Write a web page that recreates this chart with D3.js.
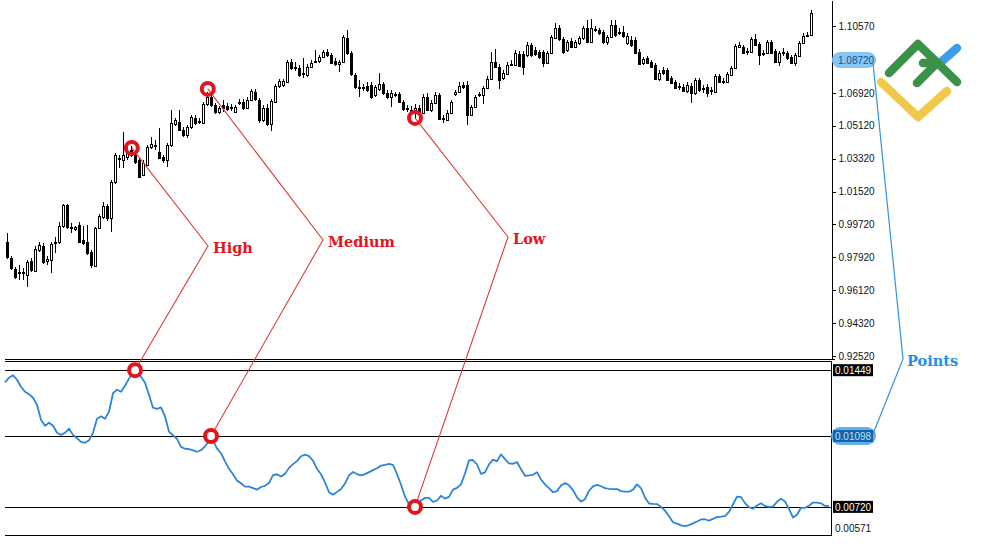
<!DOCTYPE html>
<html><head><meta charset="utf-8">
<script src="https://cdn.jsdelivr.net/npm/d3@7"></script>
<style>html,body{margin:0;padding:0;background:#fff;} svg{display:block;}</style>
</head><body>
<svg id="chart" width="1000" height="545"></svg>
<script>
const openP = [
0.9876,0.9788,0.9728,0.9712,0.9706,0.9695,0.9772,0.9717,0.9832,0.9854,
0.9772,0.9778,0.9871,0.9876,0.9964,1.0079,0.9958,0.9947,0.9969,0.9887,
0.9876,0.9821,0.9745,0.9953,1.0013,1.0073,1.0007,1.0204,1.0336,1.0325,
1.0341,1.0380,1.0352,1.0325,1.0243,1.0298,1.0396,1.0407,1.0369,1.0341,
1.0325,1.0407,1.0522,1.0533,1.0489,1.0462,1.0505,1.0555,1.0538,1.0527,
1.0631,1.0670,1.0626,1.0588,1.0626,1.0620,1.0615,1.0588,1.0637,1.0642,
1.0610,1.0653,1.0697,1.0653,1.0544,1.0610,1.0522,1.0642,1.0730,1.0736,
1.0752,1.0861,1.0834,1.0829,1.0801,1.0790,1.0834,1.0861,1.0867,1.0889,
1.0916,1.0900,1.0867,1.0850,1.0861,1.0993,1.0911,1.0790,1.0725,1.0719,
1.0730,1.0736,1.0681,1.0714,1.0741,1.0692,1.0670,1.0686,1.0686,1.0642,
1.0610,1.0599,1.0588,1.0610,1.0582,1.0670,1.0599,1.0637,1.0681,1.0555,
1.0544,1.0582,1.0686,1.0697,1.0736,1.0736,1.0571,1.0615,1.0681,1.0681,
1.0719,1.0768,1.0861,1.0834,1.0774,1.0796,1.0845,1.0845,1.0905,1.0905,
1.0900,1.0954,1.0927,1.0916,1.0916,1.0856,1.0911,1.0993,1.1047,1.0987,
1.0927,1.0976,1.0943,1.0965,1.0993,1.1047,1.0971,1.1042,1.1036,1.1025,
1.0971,1.0998,1.1064,1.1025,1.1025,1.0965,1.0982,1.0982,1.0916,1.0856,
1.0883,1.0861,1.0845,1.0768,1.0817,1.0817,1.0774,1.0752,1.0730,1.0725,
1.0703,1.0730,1.0692,1.0763,1.0719,1.0725,1.0703,1.0697,1.0785,1.0757,
1.0752,1.0790,1.0829,1.0943,1.0943,1.0922,1.0916,1.0987,1.0960,1.0905,
1.0911,1.0971,1.0922,1.0861,1.0916,1.0911,1.0889,1.0856,1.0894,1.0965,
1.1004,1.1009];
const highP = [
0.9925,0.9799,0.9739,0.9750,0.9734,0.9778,0.9788,0.9854,0.9876,0.9871,
0.9799,0.9876,0.9903,0.9985,1.0084,1.0084,0.9980,0.9964,0.9985,0.9964,
0.9969,0.9832,0.9958,1.0029,1.0095,1.0084,1.0215,1.0363,1.0352,1.0478,
1.0391,1.0401,1.0369,1.0336,1.0325,1.0407,1.0451,1.0434,1.0500,1.0352,
1.0418,1.0599,1.0555,1.0599,1.0505,1.0516,1.0571,1.0571,1.0555,1.0642,
1.0697,1.0686,1.0637,1.0620,1.0653,1.0637,1.0631,1.0626,1.0659,1.0659,
1.0670,1.0714,1.0714,1.0664,1.0626,1.0631,1.0659,1.0741,1.0768,1.0768,
1.0872,1.0878,1.0861,1.0845,1.0883,1.0850,1.0872,1.0927,1.0900,1.0927,
1.0932,1.0911,1.0883,1.0872,1.1009,1.1036,1.0922,1.0801,1.0763,1.0741,
1.0752,1.0752,1.0736,1.0801,1.0752,1.0708,1.0708,1.0697,1.0697,1.0653,
1.0626,1.0620,1.0631,1.0626,1.0686,1.0692,1.0653,1.0697,1.0692,1.0571,
1.0599,1.0653,1.0708,1.0752,1.0752,1.0757,1.0626,1.0681,1.0697,1.0730,
1.0785,1.0916,1.0932,1.0850,1.0817,1.0861,1.0872,1.0927,1.0922,1.0922,
1.0971,1.0965,1.0943,1.0927,1.0927,1.0922,1.1009,1.1075,1.1064,1.0998,
1.0982,1.0993,1.0982,1.1004,1.1058,1.1091,1.1097,1.1058,1.1047,1.1036,
1.1009,1.1091,1.1091,1.1047,1.1058,1.1020,1.1004,1.0998,1.0932,1.0889,
1.0894,1.0872,1.0856,1.0817,1.0834,1.0829,1.0785,1.0763,1.0746,1.0741,
1.0752,1.0746,1.0774,1.0774,1.0736,1.0741,1.0725,1.0796,1.0796,1.0774,
1.0807,1.0839,1.0960,1.0971,1.0954,1.0938,1.0998,1.1014,1.0971,1.0927,
1.0982,1.0982,1.0932,1.0922,1.0938,1.0922,1.0900,1.0911,1.0976,1.1020,
1.1025,1.1146];
const lowP = [
0.9783,0.9723,0.9674,0.9668,0.9668,0.9630,0.9712,0.9712,0.9821,0.9756,
0.9750,0.9706,0.9816,0.9865,0.9953,0.9947,0.9925,0.9936,0.9871,0.9860,
0.9805,0.9734,0.9739,0.9947,1.0002,0.9991,0.9931,1.0193,1.0281,1.0281,
1.0325,1.0341,1.0303,1.0226,1.0237,1.0292,1.0385,1.0380,1.0330,1.0308,
1.0287,1.0396,1.0511,1.0484,1.0451,1.0445,1.0495,1.0516,1.0522,1.0522,
1.0620,1.0615,1.0577,1.0577,1.0588,1.0593,1.0593,1.0582,1.0626,1.0599,
1.0604,1.0648,1.0648,1.0527,1.0533,1.0511,1.0484,1.0637,1.0719,1.0725,
1.0746,1.0817,1.0812,1.0779,1.0774,1.0779,1.0829,1.0856,1.0856,1.0883,
1.0889,1.0850,1.0839,1.0807,1.0856,1.0900,1.0785,1.0714,1.0670,1.0703,
1.0697,1.0659,1.0670,1.0703,1.0681,1.0659,1.0615,1.0670,1.0637,1.0593,
1.0588,1.0571,1.0555,1.0571,1.0577,1.0593,1.0588,1.0631,1.0544,1.0527,
1.0538,1.0577,1.0675,1.0692,1.0714,1.0516,1.0566,1.0610,1.0670,1.0631,
1.0714,1.0763,1.0829,1.0714,1.0763,1.0790,1.0839,1.0839,1.0834,1.0790,
1.0889,1.0889,1.0894,1.0878,1.0834,1.0850,1.0905,1.0987,1.0976,1.0905,
1.0916,1.0938,1.0938,1.0954,1.0982,1.0965,1.0965,1.1025,1.1009,1.0960,
1.0954,1.0993,1.0998,1.1009,1.0993,1.0954,1.0943,1.0905,1.0845,1.0845,
1.0850,1.0829,1.0763,1.0757,1.0790,1.0757,1.0741,1.0714,1.0708,1.0697,
1.0692,1.0637,1.0681,1.0697,1.0692,1.0670,1.0681,1.0692,1.0746,1.0741,
1.0746,1.0785,1.0823,1.0938,1.0905,1.0900,1.0911,1.0949,1.0845,1.0894,
1.0905,1.0905,1.0856,1.0839,1.0894,1.0872,1.0850,1.0839,1.0889,1.0960,
1.0998,1.1004];
const closeP = [
0.9794,0.9734,0.9685,0.9706,0.9712,0.9767,0.9723,0.9838,0.9860,0.9767,
0.9783,0.9865,0.9876,0.9964,1.0079,0.9958,0.9953,0.9958,0.9876,0.9871,
0.9816,0.9750,0.9953,1.0018,1.0073,1.0007,1.0204,1.0352,1.0330,1.0352,
1.0369,1.0352,1.0314,1.0232,1.0308,1.0396,1.0412,1.0401,1.0336,1.0325,
1.0407,1.0527,1.0544,1.0489,1.0462,1.0505,1.0560,1.0527,1.0533,1.0631,
1.0670,1.0626,1.0588,1.0610,1.0610,1.0604,1.0610,1.0615,1.0642,1.0610,
1.0653,1.0703,1.0659,1.0544,1.0610,1.0522,1.0648,1.0730,1.0757,1.0757,
1.0861,1.0829,1.0829,1.0790,1.0796,1.0834,1.0856,1.0867,1.0889,1.0916,
1.0900,1.0856,1.0850,1.0861,1.0998,1.0911,1.0796,1.0725,1.0719,1.0725,
1.0708,1.0670,1.0725,1.0741,1.0692,1.0670,1.0692,1.0681,1.0642,1.0604,
1.0604,1.0582,1.0610,1.0582,1.0670,1.0599,1.0637,1.0681,1.0549,1.0549,
1.0582,1.0642,1.0697,1.0730,1.0725,1.0571,1.0615,1.0670,1.0686,1.0719,
1.0768,1.0861,1.0834,1.0763,1.0801,1.0845,1.0850,1.0911,1.0839,1.0834,
1.0954,1.0900,1.0905,1.0889,1.0856,1.0911,1.0998,1.1047,1.0987,1.0916,
1.0971,1.0943,1.0971,1.0993,1.1047,1.0971,1.1047,1.1036,1.1020,1.0971,
1.0998,1.1064,1.1009,1.1020,1.1004,1.1004,1.0954,1.0911,1.0850,1.0878,
1.0856,1.0834,1.0768,1.0801,1.0801,1.0763,1.0746,1.0719,1.0725,1.0703,
1.0736,1.0692,1.0763,1.0708,1.0714,1.0692,1.0708,1.0785,1.0752,1.0752,
1.0796,1.0829,1.0949,1.0954,1.0911,1.0916,1.0987,1.0954,1.0900,1.0911,
1.0971,1.0911,1.0861,1.0911,1.0911,1.0883,1.0856,1.0900,1.0965,1.1004,
1.1009,1.1129];
const indicator = [
0.01384,0.01409,0.01422,0.01398,0.01361,0.01334,0.01321,0.01302,0.01265,0.01185,
0.01153,0.01169,0.01153,0.01115,0.01104,0.01115,0.01137,0.01104,0.01086,0.01067,
0.01062,0.01075,0.01115,0.01190,0.01203,0.01190,0.01227,0.01326,0.01345,0.01334,
0.01366,0.01404,0.01436,0.01444,0.01414,0.01382,0.01318,0.01249,0.01243,0.01251,
0.01203,0.01121,0.01102,0.01083,0.01040,0.01030,0.01028,0.01021,0.01014,0.01022,
0.01043,0.01070,0.01075,0.01032,0.01006,0.00963,0.00923,0.00894,0.00860,0.00846,
0.00828,0.00828,0.00820,0.00812,0.00826,0.00832,0.00847,0.00889,0.00894,0.00882,
0.00896,0.00928,0.00948,0.00964,0.00990,0.00999,0.00991,0.00967,0.00923,0.00894,
0.00851,0.00798,0.00785,0.00800,0.00815,0.00845,0.00888,0.00906,0.00895,0.00888,
0.00895,0.00905,0.00916,0.00926,0.00940,0.00944,0.00949,0.00944,0.00895,0.00838,
0.00775,0.00734,0.00720,0.00732,0.00754,0.00768,0.00768,0.00747,0.00754,0.00779,
0.00764,0.00773,0.00812,0.00821,0.00840,0.00898,0.00968,0.00970,0.00946,0.00896,
0.00904,0.00947,0.00972,0.00963,0.01000,0.00975,0.00952,0.00950,0.00959,0.00921,
0.00886,0.00888,0.00891,0.00905,0.00866,0.00840,0.00820,0.00798,0.00804,0.00834,
0.00847,0.00835,0.00809,0.00771,0.00748,0.00761,0.00806,0.00829,0.00837,0.00830,
0.00820,0.00816,0.00815,0.00815,0.00804,0.00801,0.00801,0.00812,0.00840,0.00820,
0.00770,0.00738,0.00736,0.00735,0.00720,0.00700,0.00670,0.00638,0.00631,0.00621,
0.00617,0.00623,0.00632,0.00642,0.00653,0.00654,0.00647,0.00656,0.00666,0.00668,
0.00671,0.00693,0.00734,0.00775,0.00772,0.00740,0.00718,0.00710,0.00727,0.00739,
0.00725,0.00720,0.00721,0.00747,0.00764,0.00749,0.00709,0.00663,0.00678,0.00715,
0.00715,0.00726,0.00743,0.00743,0.00739,0.00725,0.00725];
const priceTicks = [0.92520,0.94320,0.96120,0.97920,0.99720,1.01520,1.03320,1.05120,1.06920,1.08720,1.10570];
const levelValues = [0.01449, 0.01098, 0.00720];
const indicatorMin = 0.00571;
const indicatorMax = 0.01498;
const annotLabels = ["High", "Medium", "Low"];
const annotPriceIdx = [31.2, 50.2, 102];
const annotPrice = [1.0391, 1.0714, 1.0555];
const annotIndIdx = [32.5, 51.5, 102.5];
const annotIndVal = [0.01449, 0.01098, 0.00720];
const pointsLabel = "Points";
const highlightedPrice = 1.08720;
const highlightedLevel = 0.01098;

const svg = d3.select("#chart");
const x = d3.scaleLinear().domain([0, openP.length - 1]).range([7, 811]);
const y = d3.scaleLinear().domain([0.92356, 1.12005]).range([359, 0]);
const xi = d3.scaleLinear().domain([0, indicator.length - 1]).range([5, 829]);
const yi = d3.scaleLinear().domain([0.00570, indicatorMax]).range([535, 361]);
const axisX = 831;

// panel frames
const frame = svg.append("g").attr("stroke", "#000").attr("stroke-width", 1).attr("shape-rendering", "crispEdges");
frame.append("line").attr("x1", 5).attr("x2", axisX + 4).attr("y1", 359.5).attr("y2", 359.5);
frame.append("line").attr("x1", 5).attr("x2", axisX).attr("y1", 361.5).attr("y2", 361.5);
frame.append("line").attr("x1", 5).attr("x2", axisX).attr("y1", 535.5).attr("y2", 535.5);
frame.append("line").attr("x1", axisX + 0.5).attr("x2", axisX + 0.5).attr("y1", 361).attr("y2", 536);
frame.selectAll("line.lvl").data(levelValues).enter().append("line").attr("class", "lvl")
  .attr("x1", 5).attr("x2", axisX).attr("y1", d => Math.round(yi(d)) + 0.5).attr("y2", d => Math.round(yi(d)) + 0.5);

// price axis
const yAxis = d3.axisRight(y).tickValues(priceTicks).tickFormat(d3.format(".5f")).tickSize(4).tickSizeOuter(0).tickPadding(3);
const ga = svg.append("g").attr("transform", `translate(${axisX + 0.5},0)`).call(yAxis);
ga.selectAll("text").attr("font-family", "'Liberation Sans', Arial, sans-serif").attr("font-size", 10).attr("fill", "#111");
ga.select(".domain").attr("shape-rendering", "crispEdges");
ga.selectAll(".tick line").attr("shape-rendering", "crispEdges");

// candles
const cg = svg.append("g").attr("shape-rendering", "crispEdges");
const idx = d3.range(openP.length);
cg.selectAll("line.wick").data(idx).enter().append("line").attr("class", "wick")
  .attr("x1", i => Math.round(x(i)) + 0.5).attr("x2", i => Math.round(x(i)) + 0.5)
  .attr("y1", i => y(highP[i])).attr("y2", i => y(lowP[i]))
  .attr("stroke", "#000").attr("stroke-width", 1);
cg.selectAll("rect.body").data(idx).enter().append("rect").attr("class", "body")
  .attr("x", i => Math.round(x(i)) - 0.5).attr("width", 2)
  .attr("y", i => Math.round(y(Math.max(openP[i], closeP[i]))) + 0.5)
  .attr("height", i => Math.max(0, Math.round(y(Math.min(openP[i], closeP[i]))) - Math.round(y(Math.max(openP[i], closeP[i])))))
  .attr("fill", i => closeP[i] >= openP[i] ? "#fff" : "#000")
  .attr("stroke", "#000").attr("stroke-width", 1);

// indicator line
svg.append("path").datum(indicator)
  .attr("d", d3.line().x((d, i) => xi(i)).y(d => yi(d)))
  .attr("fill", "none").attr("stroke", "#2b86d9").attr("stroke-width", 1.8).attr("stroke-linejoin", "round");

// indicator axis labels
const labFont = "'Liberation Sans', Arial, sans-serif";
svg.append("rect").attr("x", axisX).attr("y", yi(highlightedLevel) - 9).attr("width", 45).attr("height", 18)
  .attr("rx", 9).attr("fill", "#5fb0ee");
svg.append("rect").attr("x", axisX + 2).attr("y", yi(highlightedLevel) - 6).attr("width", 40).attr("height", 12)
  .attr("fill", "#1463a8");
[0.01449, 0.00720].forEach(v => {
  svg.append("rect").attr("x", axisX + 2).attr("y", yi(v) - 6).attr("width", 40).attr("height", 12).attr("fill", "#000");
});
levelValues.forEach(v => {
  svg.append("text").attr("x", axisX + 4).attr("y", yi(v) + 4).attr("font-family", labFont).attr("font-size", 10)
    .attr("fill", v === highlightedLevel ? "#bfe0ff" : "#fff").text(d3.format(".5f")(v));
});
svg.append("text").attr("x", axisX + 4).attr("y", yi(indicatorMin) - 3).attr("font-family", labFont).attr("font-size", 10)
  .attr("fill", "#111").text(d3.format(".5f")(indicatorMin));

// highlighted price label
const hpY = y(highlightedPrice);
svg.append("rect").attr("x", axisX + 1).attr("y", hpY - 8).attr("width", 44).attr("height", 16).attr("rx", 8).attr("fill", "#86c6f5");
svg.append("text").attr("x", axisX + 7).attr("y", hpY + 4).attr("font-family", labFont).attr("font-size", 10)
  .attr("fill", "#1d4f86").text(d3.format(".5f")(highlightedPrice));

// annotation connectors (red)
const red = "#e3141b";
const labelPos = [[208, 246], [323, 240], [508, 237]];
annotLabels.forEach((lab, k) => {
  const p1 = [x(annotPriceIdx[k]), y(annotPrice[k])];
  const p2 = labelPos[k];
  const p3 = [xi(annotIndIdx[k]), yi(annotIndVal[k])];
  svg.append("path").attr("d", d3.line()([p1, p2, p3])).attr("fill", "none").attr("stroke", "#dc3a3a").attr("stroke-width", 1.1);
  svg.append("circle").attr("cx", p1[0]).attr("cy", p1[1]).attr("r", 6).attr("fill", "none").attr("stroke", red).attr("stroke-width", 4);
  svg.append("circle").attr("cx", p3[0]).attr("cy", p3[1]).attr("r", 6).attr("fill", "#fff").attr("stroke", red).attr("stroke-width", 4);
  svg.append("text").attr("x", p2[0] + 5).attr("y", p2[1] + 7)
    .attr("font-family", "'DejaVu Serif', 'Liberation Serif', serif").attr("font-weight", "bold").attr("font-size", 14.5)
    .attr("fill", red).text(lab);
});

// Points connectors (blue)
const blue = "#2f93e3";
svg.append("path").attr("d", d3.line()([[axisX + 42, hpY + 3], [903, 359], [axisX + 42, yi(highlightedLevel) - 2]]))
  .attr("fill", "none").attr("stroke", blue).attr("stroke-width", 1.2);
svg.append("text").attr("x", 907).attr("y", 366)
  .attr("font-family", "'DejaVu Serif', 'Liberation Serif', serif").attr("font-weight", "bold").attr("font-size", 14.5)
  .attr("fill", "#1f8fe8").text(pointsLabel);

// logo
const logo = svg.append("g").attr("fill", "none").attr("stroke-linecap", "round").attr("stroke-linejoin", "round").attr("stroke-width", 8.5);
logo.append("path").attr("d", "M940,63 L957,48").attr("stroke", "#3e9ce6");
logo.append("path").attr("d", "M889,73 L918,44 L957,82").attr("stroke", "#3b9148");
logo.append("path").attr("d", "M917,83 L937,63 L923,63").attr("stroke", "#3b9148");
logo.append("path").attr("d", "M881,82 L918,117 L947,91").attr("stroke", "#f1c94a");
</script>
</body></html>
